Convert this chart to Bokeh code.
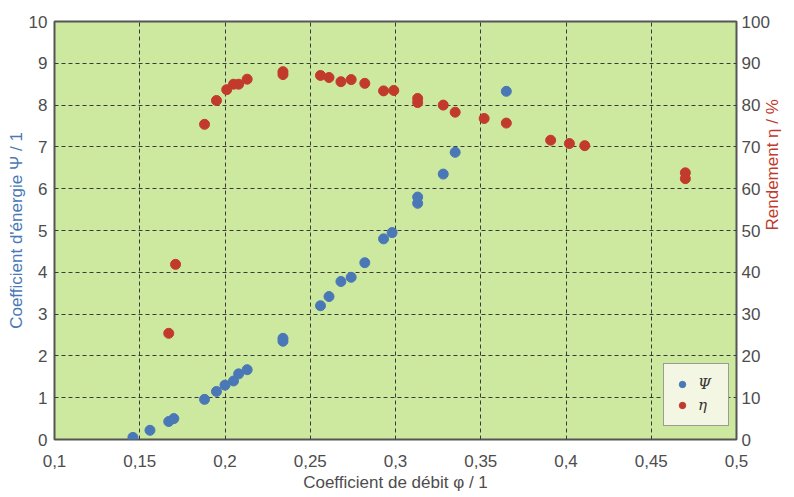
import math
from bokeh.plotting import figure
from bokeh.models import Range1d, LinearAxis, FixedTicker, CustomJSTickFormatter, Legend, LegendItem
from bokeh.embed import file_html
from bokeh.resources import INLINE

# Data
psi_phi = [0.146, 0.156, 0.167, 0.170, 0.188, 0.195, 0.200, 0.205, 0.208, 0.213,
           0.234, 0.234, 0.256, 0.261, 0.268, 0.274, 0.282, 0.293, 0.298,
           0.313, 0.313, 0.328, 0.335, 0.365]
psi_val = [0.05, 0.22, 0.43, 0.50, 0.96, 1.15, 1.30, 1.40, 1.57, 1.67,
           2.42, 2.35, 3.20, 3.42, 3.78, 3.88, 4.23, 4.80, 4.95,
           5.65, 5.80, 6.35, 6.87, 8.33]

eta_phi = [0.167, 0.171, 0.188, 0.195, 0.201, 0.205, 0.208, 0.213, 0.234, 0.234,
           0.256, 0.261, 0.268, 0.274, 0.282, 0.293, 0.299, 0.313, 0.313,
           0.328, 0.335, 0.352, 0.365, 0.391, 0.402, 0.411, 0.470, 0.470]
eta_val = [25.4, 41.9, 75.4, 81.1, 83.7, 85.0, 85.0, 86.2, 88.0, 87.3,
           87.1, 86.6, 85.6, 86.1, 85.2, 83.4, 83.5, 81.6, 80.6,
           80.0, 78.3, 76.8, 75.7, 71.6, 70.8, 70.3, 63.8, 62.4]

x_ticks = [0.1, 0.15, 0.2, 0.25, 0.3, 0.35, 0.4, 0.45, 0.5]
y_ticks = list(range(0, 11))
eta_ticks = list(range(0, 101, 10))

BLUE = "#4a78b6"
RED = "#c23a2c"
GREEN = "#cde9a0"
TICK_COLOR = "#4d4d4d"
FONT = "Liberation Sans"

p = figure(width=794, height=497, output_backend="svg", toolbar_location=None,
           x_range=Range1d(0.1, 0.5), y_range=Range1d(0, 10),
           min_border_left=54, min_border_right=57, min_border_top=21, min_border_bottom=58)
p.extra_y_ranges = {"eta": Range1d(0, 100)}

p.background_fill_color = GREEN
p.border_fill_color = "white"
p.outline_line_color = "#555555"
p.outline_line_width = 2

fmt = CustomJSTickFormatter(code="return tick.toFixed(2).replace(/0+$/, '').replace('.', ',');")

right = LinearAxis(y_range_name="eta", ticker=FixedTicker(ticks=eta_ticks),
                   axis_label="Rendement η / %")
p.add_layout(right, "right")

for ax in [p.xaxis[0], p.yaxis[0], right]:
    ax.axis_line_color = None
    ax.major_tick_line_color = None
    ax.minor_tick_line_color = None
    ax.major_tick_out = 0
    ax.major_tick_in = 0
    ax.minor_tick_out = 0
    ax.minor_tick_in = 0
    ax.major_label_text_font = FONT
    ax.major_label_text_font_size = "17px"
    ax.major_label_text_color = TICK_COLOR
    ax.axis_label_text_font = FONT
    ax.axis_label_text_font_size = "17px"
    ax.axis_label_text_font_style = "normal"
    ax.major_label_standoff = 7
    ax.axis_label_standoff = 0

p.xaxis[0].ticker = FixedTicker(ticks=x_ticks)
p.xaxis[0].formatter = fmt
p.xaxis[0].axis_label = "Coefficient de débit φ / 1"
p.xaxis[0].axis_label_text_color = TICK_COLOR
p.xaxis[0].major_label_standoff = 15
p.xaxis[0].axis_label_standoff = 3

p.yaxis[0].ticker = FixedTicker(ticks=y_ticks)
p.yaxis[0].axis_label = "Coefficient d'énergie Ψ / 1"
p.yaxis[0].axis_label_text_color = BLUE

right.axis_label_text_color = RED
right.axis_label_orientation = math.pi / 2
right.axis_label_standoff = 0
right.major_label_standoff = 5

p.xgrid.ticker = FixedTicker(ticks=x_ticks)
p.ygrid.ticker = FixedTicker(ticks=y_ticks)
for g in [p.xgrid[0], p.ygrid[0]]:
    g.grid_line_color = "#3a3a3a"
    g.grid_line_dash = "4 3"
    g.grid_line_width = 1

r_psi = p.scatter(psi_phi, psi_val, size=10, color=BLUE, line_color=BLUE)
r_eta = p.scatter(eta_phi, eta_val, size=10, color=RED, line_color=RED, y_range_name="eta")

legend = Legend(items=[LegendItem(label="Ψ", renderers=[r_psi]),
                       LegendItem(label="η", renderers=[r_eta])],
                location=(609, 13))
legend.background_fill_color = "#f3f6e2"
legend.background_fill_alpha = 1
legend.border_line_color = "#444444"
legend.border_line_width = 1.5
legend.label_text_font = "DejaVu Serif"
legend.label_text_font_style = "italic"
legend.label_text_font_size = "15px"
legend.label_text_color = "#333333"
legend.glyph_width = 16
legend.glyph_height = 20
legend.label_height = 20
legend.spacing = 1
legend.padding = 10
legend.margin = 0
legend.label_standoff = 8
p.add_layout(legend, "center")

open("out.html", "w").write(file_html(p, INLINE))
